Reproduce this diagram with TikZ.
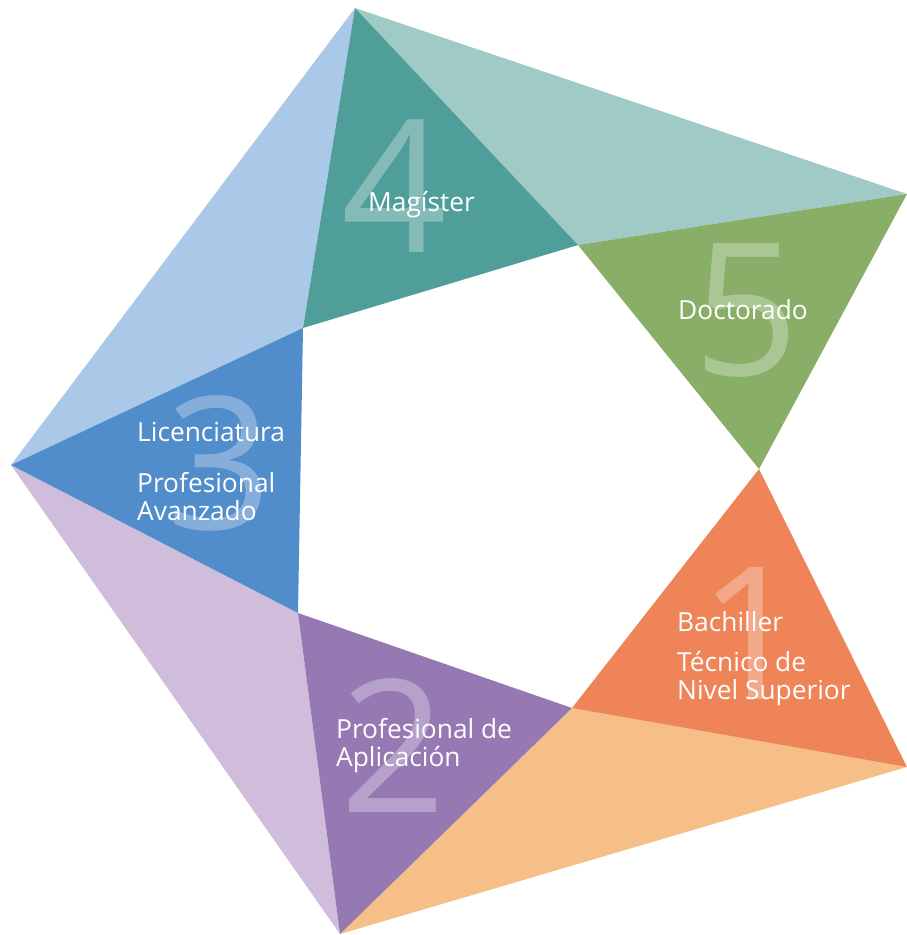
\documentclass[tikz,border=0pt]{standalone}
\usepackage{fontspec}
\setmainfont{Open Sans}
\definecolor{tealD}{HTML}{4F9E99}
\definecolor{tealL}{HTML}{9FCAC5}
\definecolor{greenD}{HTML}{88AE68}
\definecolor{orangeD}{HTML}{EE8457}
\definecolor{orangeL}{HTML}{F5BF87}
\definecolor{purpleD}{HTML}{9679B2}
\definecolor{purpleL}{HTML}{D0BDDB}
\definecolor{blueD}{HTML}{518DCB}
\definecolor{blueL}{HTML}{AAC9E9}
\begin{document}
\begin{tikzpicture}[x=1pt,y=-1pt,
  bignum/.style={text=white,text opacity=0.3,font=\fontsize{185}{185}\selectfont,inner sep=0pt},
  lbl/.style={text=white,font=\fontsize{26.3}{28}\selectfont,align=left,anchor=west,inner sep=0pt}]
\useasboundingbox (0,0) rectangle (907,935);
% outer vertices
\coordinate (T) at (355,8);
\coordinate (RT) at (907,194);
\coordinate (RB) at (907,767);
\coordinate (Bo) at (340,934);
\coordinate (L) at (11,465);
% inner vertices
\coordinate (A) at (578,245);
\coordinate (B) at (759,469);
\coordinate (C) at (572,708);
\coordinate (D) at (298,613);
\coordinate (E) at (303,328);
% light triangles
\fill[tealL] (T) -- (A) -- (RT) -- cycle;
\fill[orangeL] (C) -- (RB) -- (Bo) -- cycle;
\fill[purpleL] (D) -- (Bo) -- (L) -- cycle;
\fill[blueL] (E) -- (L) -- (T) -- cycle;
% dark triangles
\fill[tealD] (T) -- (E) -- (A) -- cycle;
\fill[greenD] (A) -- (RT) -- (B) -- cycle;
\fill[orangeD] (B) -- (RB) -- (C) -- cycle;
\fill[purpleD] (C) -- (Bo) -- (D) -- cycle;
\fill[blueD] (D) -- (L) -- (E) -- cycle;
% big numbers
\node[bignum] (n4) at (394,186) {4};
\node[bignum] (n5) at (746,310) {5};
\node[bignum] (n3) at (219,463) {3};
\node[bignum] (n2) at (393,746) {2};
\node[bignum] (n1) at (751,633) {1};
% labels
\node[lbl] (m) at (368,205) {Magíster};
\node[lbl] (d) at (678,310) {Doctorado};
\node[lbl] (lic) at (137,432) {Licenciatura};
\node[lbl] (pa) at (137,497) {Profesional\\Avanzado};
\node[lbl] (ba) at (677,622) {Bachiller};
\node[lbl] (tn) at (677,679) {Técnico de\\Nivel Superior};
\node[lbl] (ap) at (336,746) {Profesional de\\Aplicación};
\end{tikzpicture}
\end{document}
